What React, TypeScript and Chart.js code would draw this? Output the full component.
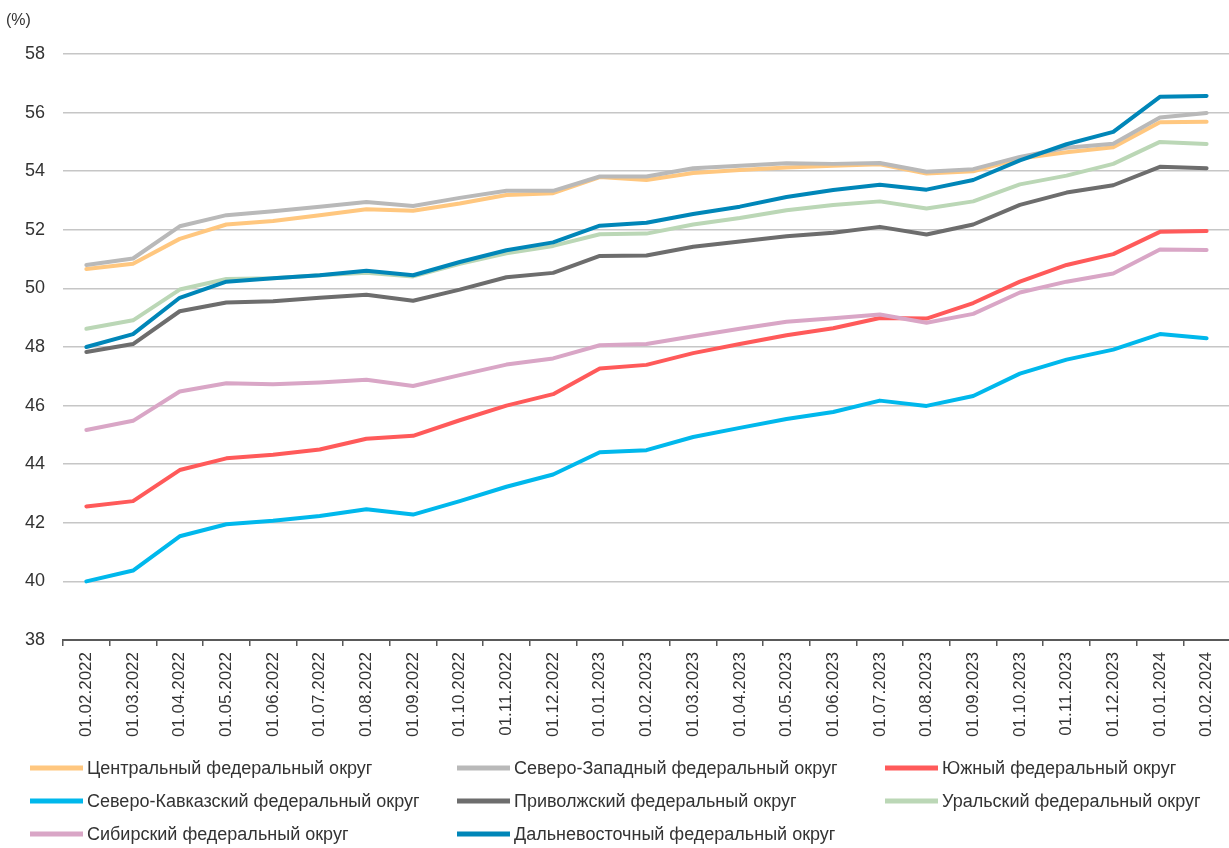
import React, { useEffect, useRef } from "react";
import { Chart, registerables } from "chart.js";

Chart.register(...registerables);

const categories = [
  "01.02.2022", "01.03.2022", "01.04.2022", "01.05.2022", "01.06.2022", "01.07.2022",
  "01.08.2022", "01.09.2022", "01.10.2022", "01.11.2022", "01.12.2022", "01.01.2023",
  "01.02.2023", "01.03.2023", "01.04.2023", "01.05.2023", "01.06.2023", "01.07.2023",
  "01.08.2023", "01.09.2023", "01.10.2023", "01.11.2023", "01.12.2023", "01.01.2024",
  "01.02.2024",
];

const central = [50.66, 50.84, 51.69, 52.18, 52.3, 52.5, 52.7, 52.65, 52.9, 53.19, 53.25, 53.8, 53.7, 53.94, 54.04, 54.13, 54.19, 54.24, 53.92, 54.0, 54.43, 54.65, 54.82, 55.67, 55.69];
const northwest = [50.8, 51.02, 52.12, 52.5, 52.63, 52.79, 52.95, 52.81, 53.09, 53.33, 53.33, 53.82, 53.82, 54.1, 54.19, 54.27, 54.25, 54.28, 53.98, 54.07, 54.49, 54.8, 54.94, 55.83, 55.99];
const south = [42.56, 42.74, 43.8, 44.2, 44.32, 44.5, 44.87, 44.97, 45.5, 46.0, 46.39, 47.27, 47.39, 47.79, 48.1, 48.4, 48.64, 48.99, 48.97, 49.5, 50.23, 50.8, 51.17, 51.93, 51.96];
const northCaucasus = [40.0, 40.37, 41.54, 41.95, 42.07, 42.23, 42.46, 42.28, 42.74, 43.23, 43.65, 44.41, 44.48, 44.93, 45.24, 45.54, 45.78, 46.17, 45.99, 46.33, 47.09, 47.57, 47.91, 48.44, 48.3];
const volga = [47.83, 48.1, 49.22, 49.52, 49.56, 49.68, 49.78, 49.58, 49.96, 50.38, 50.53, 51.11, 51.12, 51.42, 51.6, 51.78, 51.9, 52.1, 51.84, 52.18, 52.85, 53.27, 53.52, 54.15, 54.1];
const ural = [48.62, 48.91, 49.96, 50.32, 50.35, 50.45, 50.53, 50.41, 50.84, 51.2, 51.45, 51.85, 51.87, 52.18, 52.4, 52.67, 52.85, 52.97, 52.73, 52.97, 53.55, 53.85, 54.25, 55.0, 54.93];
const siberia = [45.17, 45.48, 46.48, 46.76, 46.73, 46.79, 46.88, 46.67, 47.04, 47.4, 47.61, 48.06, 48.1, 48.37, 48.62, 48.86, 48.98, 49.11, 48.83, 49.13, 49.86, 50.23, 50.51, 51.33, 51.31];
const farEast = [48.0, 48.44, 49.68, 50.23, 50.35, 50.45, 50.6, 50.45, 50.9, 51.3, 51.57, 52.14, 52.24, 52.54, 52.79, 53.12, 53.36, 53.54, 53.37, 53.7, 54.37, 54.92, 55.34, 56.54, 56.57];

const seriesNames = [
  "Центральный федеральный округ",
  "Северо-Западный федеральный округ",
  "Южный федеральный округ",
  "Северо-Кавказский федеральный округ",
  "Приволжский федеральный округ",
  "Уральский федеральный округ",
  "Сибирский федеральный округ",
  "Дальневосточный федеральный округ",
];
const seriesValues = [central, northwest, south, northCaucasus, volga, ural, siberia, farEast];
const seriesColors = ["#FFC77F", "#B9B9B9", "#FF5A5A", "#00B8EC", "#6D6D6D", "#BBD7B6", "#D9A6C6", "#0086B8"];

const yUnit = "(%)";
const yMin = 38;
const yMax = 58;
const yStep = 2;

const FONT = "'Liberation Sans', Arial, sans-serif";
const TEXT = "#333333";

const extrasPlugin = {
  id: "extras",
  afterDraw(chart: any) {
    const ctx = chart.ctx;
    ctx.save();
    ctx.fillStyle = TEXT;
    ctx.font = `16px ${FONT}`;
    ctx.textAlign = "left";
    ctx.textBaseline = "middle";
    ctx.fillText(yUnit, 6, 21);

    const cols = [30, 457, 885];
    const rows = [768, 801, 834];
    chart.data.datasets.forEach((ds: any, i: number) => {
      const x = cols[i % 3];
      const y = rows[Math.floor(i / 3)];
      ctx.strokeStyle = ds.borderColor;
      ctx.lineWidth = 5;
      ctx.lineCap = "butt";
      ctx.beginPath();
      ctx.moveTo(x, y);
      ctx.lineTo(x + 53, y);
      ctx.stroke();
      ctx.fillStyle = TEXT;
      ctx.font = `18px ${FONT}`;
      ctx.textBaseline = "middle";
      ctx.fillText(ds.label, x + 57, y + 1);
    });
    ctx.restore();
  },
};

export default function App() {
  const ref = useRef<HTMLCanvasElement>(null);

  useEffect(() => {
    document.body.style.margin = "0";
    document.body.style.overflow = "hidden";
    const canvas = ref.current;
    if (!canvas) return;
    const chart = new Chart(canvas, {
      type: "line",
      data: {
        labels: categories,
        datasets: seriesNames.map((name, i) => ({
          label: name,
          data: seriesValues[i],
          borderColor: seriesColors[i],
          backgroundColor: seriesColors[i],
          borderWidth: 4,
          pointRadius: 0,
          pointHoverRadius: 0,
          tension: 0,
          borderJoinStyle: "round" as const,
          borderCapStyle: "round" as const,
          order: seriesNames.length - i,
        })),
      },
      options: {
        animation: false,
        responsive: false,
        devicePixelRatio: 1,
        layout: { padding: { top: 54, bottom: 0, left: 0, right: 0 } },
        plugins: {
          legend: { display: false },
          tooltip: { enabled: false },
          title: { display: false },
        },
        scales: {
          x: {
            type: "category",
            offset: true,
            grid: {
              display: true,
              offset: true,
              drawOnChartArea: false,
              drawTicks: true,
              tickLength: 6,
              color: "#595959",
              lineWidth: 1.5,
            },
            border: { display: true, color: "#595959", width: 2 },
            ticks: {
              autoSkip: false,
              minRotation: 90,
              maxRotation: 90,
              padding: 6,
              color: TEXT,
              font: { family: FONT, size: 17 },
            },
            afterFit(scale: any) {
              scale.height = 208;
            },
          },
          y: {
            min: yMin,
            max: yMax,
            grid: {
              color: "#C6C6C6",
              lineWidth: 1.5,
              drawTicks: false,
            },
            border: { display: false },
            ticks: {
              stepSize: yStep,
              padding: 18,
              color: TEXT,
              font: { family: FONT, size: 18 },
            },
            afterFit(scale: any) {
              scale.width = 63;
            },
          },
        },
      },
      plugins: [extrasPlugin],
    });
    return () => chart.destroy();
  }, []);

  return (
    <div style={{ width: 1233, height: 848, position: "relative" }}>
      <canvas ref={ref} width={1233} height={848} style={{ display: "block" }} />
    </div>
  );
}
